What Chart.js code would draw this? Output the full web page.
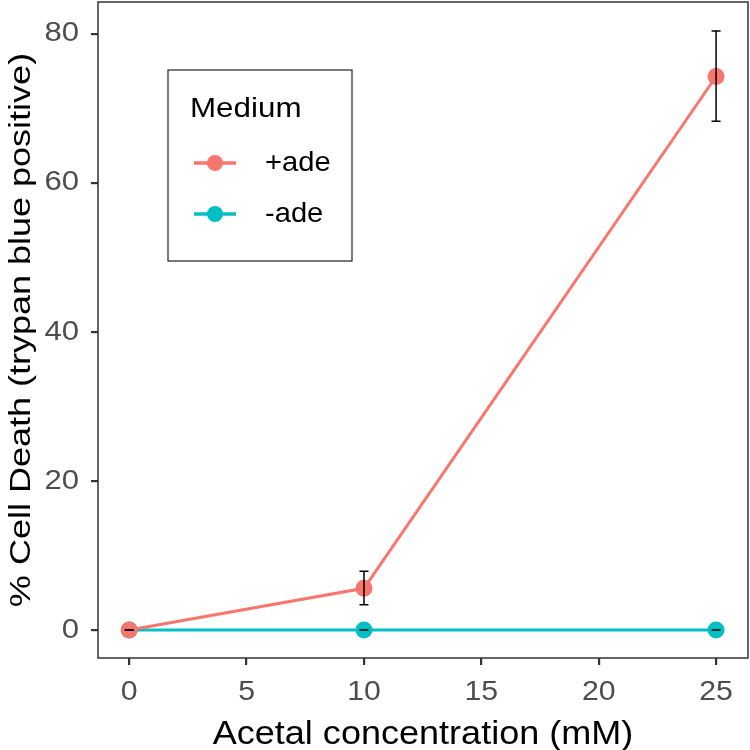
<!DOCTYPE html>
<html>
<head>
<meta charset="utf-8">
<script src="https://cdn.jsdelivr.net/npm/chart.js@4.4.0/dist/chart.umd.min.js"></script>
<style>
  html, body { margin: 0; padding: 0; background: #fff; }
  #wrap { width: 750px; height: 750px; }
</style>
</head>
<body>
<div id="wrap"><canvas id="c" width="750" height="750"></canvas></div>
<script>
// data
const concentrations = [0, 10, 25];
const plusAde = [0, 5.6, 74.3];
const plusAdeLow = [0, 3.4, 68.3];
const plusAdeHigh = [0, 7.9, 80.4];
const minusAde = [0, 0, 0];
const minusAdeLow = [0, 0, 0];
const minusAdeHigh = [0, 0, 0];
const xTicks = [0, 5, 10, 15, 20, 25];
const yTicks = [0, 20, 40, 60, 80];
const xTitle = "Acetal concentration (mM)";
const yTitle = "% Cell Death (trypan blue positive)";
const legendTitle = "Medium";
const seriesNames = ["+ade", "-ade"];

const RED = "#F8766D";
const TEAL = "#00BFC4";
const FONT = "'Liberation Sans', Arial, sans-serif";

const toPoints = (ys) => concentrations.map((x, i) => ({ x: x, y: ys[i] }));

// text with a little horizontal stretch, like the original export
function stretchText(ctx, text, x, y, size, sx, align, base, color, rot) {
  ctx.save();
  ctx.translate(x, y);
  if (rot) ctx.rotate(rot);
  ctx.scale(sx, 1);
  ctx.font = size + "px " + FONT;
  ctx.fillStyle = color;
  ctx.textAlign = align;
  ctx.textBaseline = base;
  ctx.fillText(text, 0, 0);
  ctx.restore();
}

// error bars drawn through the scales
const errorBars = {
  id: "errorBars",
  afterDatasetsDraw(chart) {
    const { ctx, scales } = chart;
    const sets = [[plusAdeLow, plusAdeHigh], [minusAdeLow, minusAdeHigh]];
    ctx.save();
    ctx.strokeStyle = "#000";
    ctx.lineWidth = 1.5;
    sets.forEach(([lo, hi]) => {
      concentrations.forEach((c, i) => {
        const x = scales.x.getPixelForValue(c);
        const y1 = scales.y.getPixelForValue(lo[i]);
        const y2 = scales.y.getPixelForValue(hi[i]);
        const w = 4.5;
        ctx.beginPath();
        ctx.moveTo(x, y1); ctx.lineTo(x, y2);
        ctx.moveTo(x - w, y1); ctx.lineTo(x + w, y1);
        ctx.moveTo(x - w, y2); ctx.lineTo(x + w, y2);
        ctx.stroke();
      });
    });
    ctx.restore();
  }
};

// panel border, tick labels, axis titles and the legend box
const decorations = {
  id: "decorations",
  afterDraw(chart) {
    const { ctx, chartArea: a, scales } = chart;
    ctx.save();
    ctx.strokeStyle = "#333";
    ctx.lineWidth = 1.5;
    ctx.strokeRect(a.left, a.top, a.right - a.left, a.bottom - a.top);
    ctx.restore();

    xTicks.forEach((v) => {
      stretchText(ctx, String(v), scales.x.getPixelForValue(v), 700, 27, 1.12, "center", "alphabetic", "#4D4D4D");
    });
    yTicks.forEach((v) => {
      stretchText(ctx, String(v), 79, scales.y.getPixelForValue(v), 27, 1.15, "right", "middle", "#4D4D4D");
    });
    stretchText(ctx, xTitle, (a.left + a.right) / 2, 744, 34, 1.06, "center", "alphabetic", "#000");
    stretchText(ctx, yTitle, 30, (a.top + a.bottom) / 2, 30, 1.2, "center", "alphabetic", "#000", -Math.PI / 2);

    // legend
    ctx.save();
    ctx.lineWidth = 1.2;
    ctx.strokeStyle = "#222";
    ctx.fillStyle = "#fff";
    ctx.fillRect(168, 70, 184, 191);
    ctx.strokeRect(168, 70, 184, 191);
    ctx.restore();
    stretchText(ctx, legendTitle, 190, 117, 28, 1.12, "left", "alphabetic", "#000");
    const cols = [RED, TEAL];
    const rows = [163, 214];
    seriesNames.forEach((label, i) => {
      const y = rows[i];
      ctx.save();
      ctx.strokeStyle = cols[i];
      ctx.lineWidth = 3.5;
      ctx.beginPath();
      ctx.moveTo(194, y); ctx.lineTo(236, y);
      ctx.stroke();
      ctx.fillStyle = cols[i];
      ctx.beginPath();
      ctx.arc(215, y, 8, 0, Math.PI * 2);
      ctx.fill();
      ctx.restore();
      stretchText(ctx, label, 265, y, 28, 1.04, "left", "middle", "#000");
    });
  }
};

new Chart(document.getElementById("c"), {
  type: "line",
  data: {
    datasets: [
      {
        label: seriesNames[0],
        data: toPoints(plusAde),
        borderColor: RED,
        backgroundColor: RED,
        borderWidth: 3,
        pointRadius: 8.5,
        pointBorderWidth: 0,
        tension: 0,
        clip: false
      },
      {
        label: seriesNames[1],
        data: toPoints(minusAde),
        borderColor: TEAL,
        backgroundColor: TEAL,
        borderWidth: 3,
        pointRadius: 8.5,
        pointBorderWidth: 0,
        tension: 0,
        clip: false
      }
    ]
  },
  options: {
    responsive: false,
    animation: false,
    layout: { autoPadding: false, padding: { left: 0, right: 2, top: 2, bottom: 0 } },
    plugins: {
      legend: { display: false },
      tooltip: { enabled: false }
    },
    scales: {
      x: {
        type: "linear",
        min: -1.33,
        max: 26.36,
        afterBuildTicks: (s) => { s.ticks = xTicks.map((v) => ({ value: v })); },
        afterFit: (s) => { s.height = 92; },
        grid: { drawOnChartArea: false, color: "#333", lineWidth: 2.2, tickLength: 7, tickColor: "#333" },
        border: { display: false },
        ticks: { display: false }
      },
      y: {
        min: -3.75,
        max: 84.3,
        afterBuildTicks: (s) => { s.ticks = yTicks.map((v) => ({ value: v })); },
        afterFit: (s) => { s.width = 98; },
        grid: { drawOnChartArea: false, color: "#333", lineWidth: 2.2, tickLength: 7, tickColor: "#333" },
        border: { display: false },
        ticks: { display: false }
      }
    }
  },
  plugins: [errorBars, decorations]
});
</script>
</body>
</html>
